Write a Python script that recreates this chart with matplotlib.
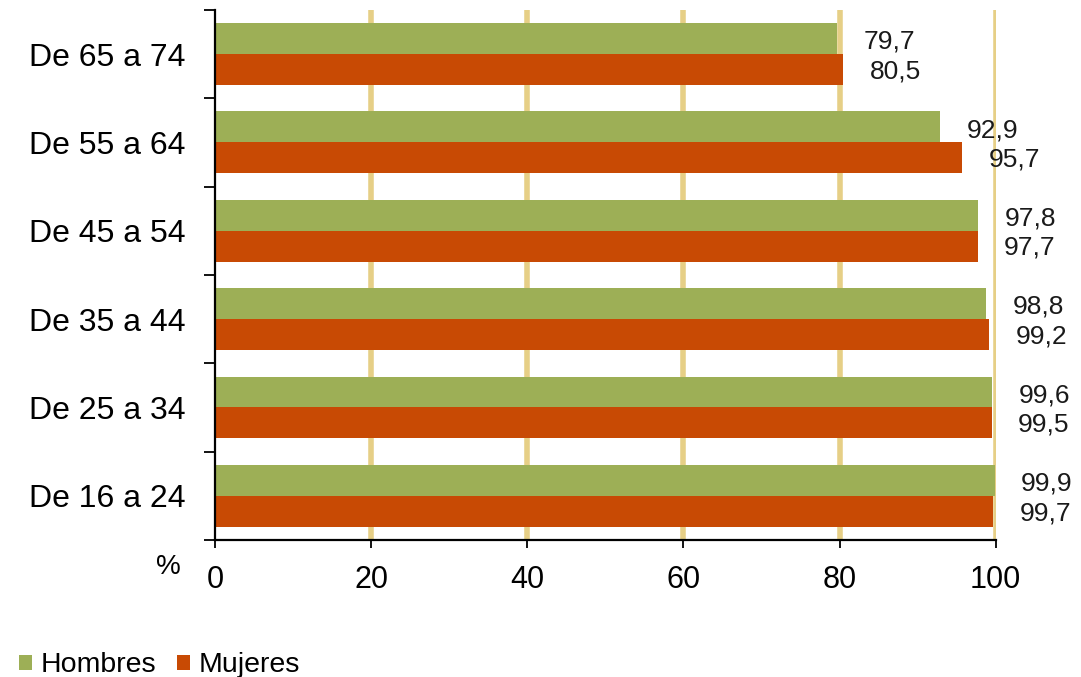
import matplotlib.pyplot as plt
import numpy as np

plt.rcParams['font.family'] = ['Liberation Sans', 'DejaVu Sans']

# Datos
grupos = ["De 16 a 24", "De 25 a 34", "De 35 a 44", "De 45 a 54", "De 55 a 64", "De 65 a 74"]
hombres = [99.9, 99.6, 98.8, 97.8, 92.9, 79.7]
mujeres = [99.7, 99.5, 99.2, 97.7, 95.7, 80.5]
etiquetas_x = [0, 20, 40, 60, 80, 100]

color_h = "#9DAF56"
color_m = "#C84A04"
color_grid = "#E6CF86"

fig = plt.figure(figsize=(10.81, 6.77), dpi=100)
ax = fig.add_axes([0.199, 0.2024, 0.722, 0.783])

y = np.arange(len(grupos))
alto = 0.35

for xv in etiquetas_x[1:]:
    ax.axvline(xv, color=color_grid, linewidth=4, zorder=0)

ax.barh(y + alto / 2, hombres, height=alto, color=color_h, zorder=2, label="Hombres")
ax.barh(y - alto / 2, mujeres, height=alto, color=color_m, zorder=2, label="Mujeres")

for i in range(len(grupos)):
    ax.annotate(f"{hombres[i]:.1f}".replace(".", ","), (hombres[i], y[i] + alto / 2 - 0.035),
                xytext=(19, 0), textcoords="offset points", va="center", ha="left",
                fontsize=19, color="#1a1a1a", annotation_clip=False)
    ax.annotate(f"{mujeres[i]:.1f}".replace(".", ","), (mujeres[i], y[i] - alto / 2 - 0.02),
                xytext=(19, 0), textcoords="offset points", va="center", ha="left",
                fontsize=19, color="#1a1a1a", annotation_clip=False)

ax.set_xlim(0, 100)
ax.set_ylim(-0.5, len(grupos) - 0.5)
ax.set_xticks(etiquetas_x)
ax.set_xticklabels([str(v) for v in etiquetas_x], fontsize=22)

ax.set_yticks(y)
ax.set_yticklabels(grupos, fontsize=23)
ax.tick_params(axis="y", length=0, pad=21)
ax.set_yticks(np.arange(-0.5, len(grupos), 1), minor=True)
ax.tick_params(axis="y", which="minor", length=8, width=1.3, direction="out")
ax.tick_params(axis="x", length=6, width=1.3, direction="out", pad=12)

for s in ["top", "right"]:
    ax.spines[s].set_visible(False)
for s in ["left", "bottom"]:
    ax.spines[s].set_linewidth(1.6)

fig.text(0.156, 0.162, "%", fontsize=20, ha="center", va="center")

fig.legend(loc="lower left", bbox_to_anchor=(-0.006, -0.04), ncol=2, frameon=False,
           fontsize=20.5, handlelength=0.45, handleheight=0.45, handletextpad=0.3,
           columnspacing=0.75)

plt.savefig("out.png", dpi=100)
